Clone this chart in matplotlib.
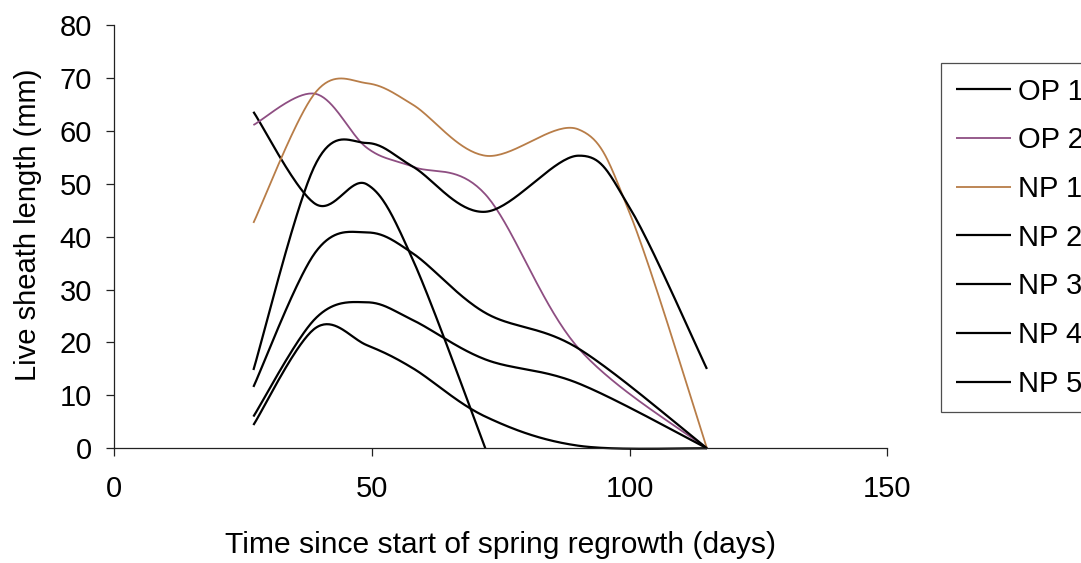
import numpy as np
import matplotlib
matplotlib.use('Agg')
import matplotlib.pyplot as plt

plt.rcParams['font.family'] = ['Liberation Sans', 'DejaVu Sans']

# sampling days and live sheath length (mm) per tiller
days = [27, 39, 49, 58, 72, 90, 100, 115]
op1 = [63.6, 46.2, 49.9, 35.5, 0.0, np.nan, np.nan, np.nan]
op2 = [61.1, 67.0, 56.8, 53.2, 48.0, 19.0, np.nan, 0.0]
np1 = [42.6, 67.2, 69.0, 64.9, 55.3, 60.3, 44.5, 0.0]
np2 = [14.8, 53.6, 57.7, 53.2, 44.7, 55.3, 45.5, 15.0]
np3 = [11.6, 37.0, 40.8, 36.8, 25.6, 18.9, np.nan, 0.0]
np4 = [6.0, 24.5, 27.6, 24.2, 16.8, 12.3, np.nan, 0.0]
np5 = [4.4, 22.7, 19.5, 15.1, 6.0, 0.5, np.nan, 0.0]

labels = ['OP 1', 'OP 2', 'NP 1', 'NP 2', 'NP 3', 'NP 4', 'NP 5']
colors = ['black', '#8e4e82', '#b87d48', 'black', 'black', 'black', 'black']
widths = [1.6, 1.3, 1.3, 1.6, 1.6, 1.6, 1.6]


def smooth(xs, ys, n=40):
    """Spreadsheet-style smoothed line: cubic Bezier through every point."""
    pts = np.array([(x, y) for x, y in zip(xs, ys) if not np.isnan(y)], dtype=float)
    out = [pts[:1]]
    k = len(pts)
    t = np.linspace(0, 1, n)[1:, None]
    for i in range(k - 1):
        p0 = pts[i]
        p3 = pts[i + 1]
        prev = pts[i - 1] if i > 0 else pts[i]
        nxt = pts[i + 2] if i + 2 < k else pts[i + 1]
        c1 = p0 + (p3 - prev) / 6.0
        c2 = p3 - (nxt - p0) / 6.0
        seg = ((1 - t) ** 3) * p0 + 3 * ((1 - t) ** 2) * t * c1 \
            + 3 * (1 - t) * t ** 2 * c2 + t ** 3 * p3
        out.append(seg)
    curve = np.vstack(out)
    return curve[:, 0], curve[:, 1]


fig = plt.figure(figsize=(10.81, 5.63), dpi=100)
ax = fig.add_axes([0.1057, 0.2037, 0.7151, 0.7519])

series = [op1, op2, np1, np2, np3, np4, np5]
for vals, lab, col, lw in zip(series, labels, colors, widths):
    sx, sy = smooth(days, vals)
    ax.plot(sx, sy, color=col, lw=lw, label=lab, clip_on=False, solid_capstyle='butt')

ax.set_xlim(0, 150)
ax.set_ylim(0, 80)
ax.set_xticks([0, 50, 100, 150])
ax.set_yticks(range(0, 81, 10))

for side in ['top', 'right']:
    ax.spines[side].set_visible(False)
for side in ['left', 'bottom']:
    ax.spines[side].set_linewidth(0.9)
    ax.spines[side].set_color('#222222')

ax.tick_params(axis='y', direction='out', length=6, width=0.9, pad=10,
               labelsize=21, color='#222222')
ax.tick_params(axis='x', direction='out', length=6, width=0.9, pad=13,
               labelsize=21, color='#222222')

ax.set_xlabel('Time since start of spring regrowth (days)', fontsize=21.6, va='center')
ax.xaxis.set_label_coords(0.5, -0.229)
ax.set_ylabel('Live sheath length (mm)', fontsize=21, va='center')
ax.yaxis.set_label_coords(-0.112, 0.527)

leg = ax.legend(loc='upper left', bbox_to_anchor=(941 / 1081, 500 / 563),
                bbox_transform=fig.transFigure, borderaxespad=0,
                fontsize=21, frameon=True, fancybox=False, shadow=False,
                handlelength=1.9, handletextpad=0.23, borderpad=0.5,
                labelspacing=0.71)
leg.get_frame().set_edgecolor('#222222')
leg.get_frame().set_linewidth(0.9)

fig.savefig('out.png', dpi=100)
plt.close(fig)
